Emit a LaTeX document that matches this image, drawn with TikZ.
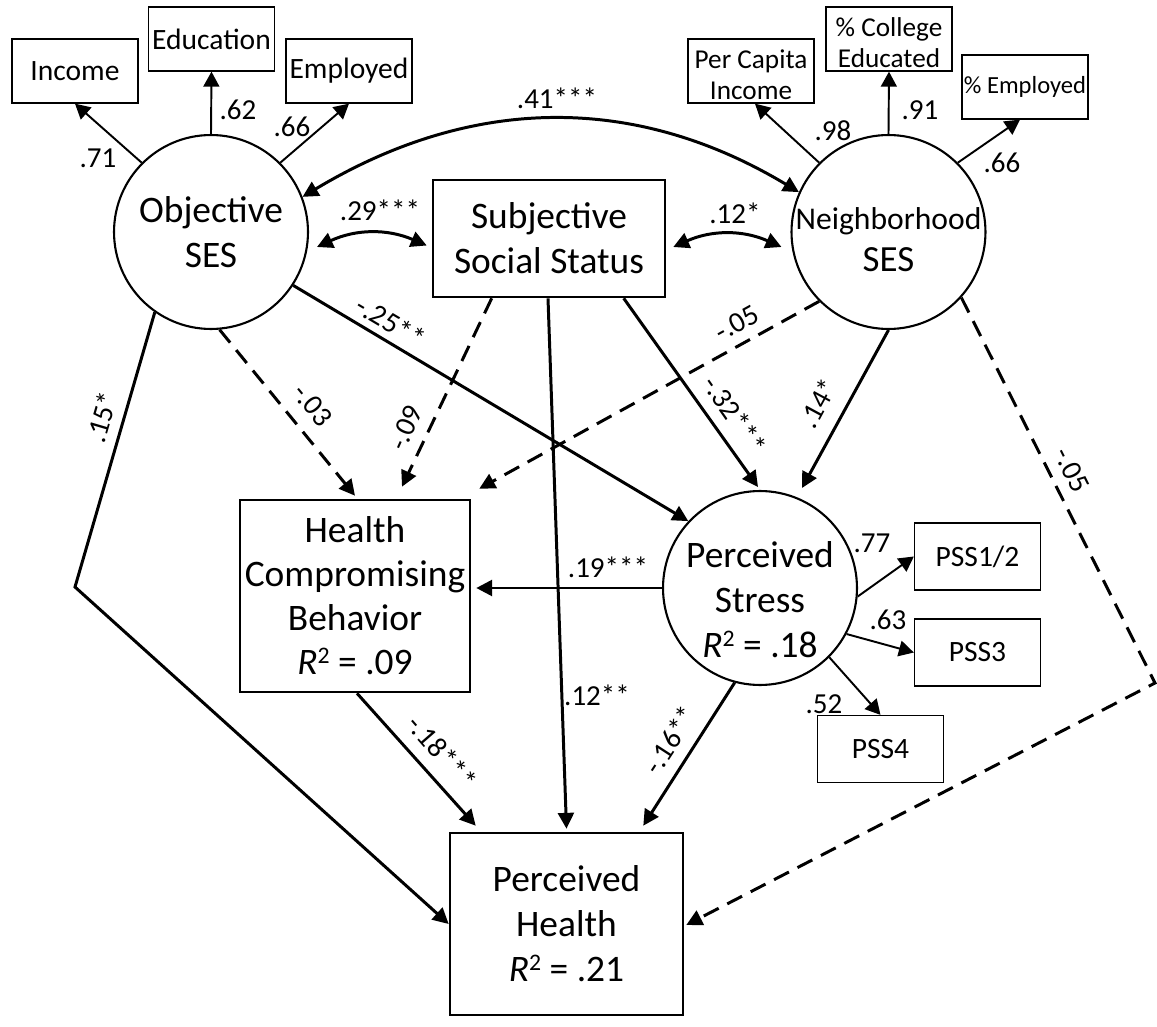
\documentclass[tikz,border=0pt]{standalone}
\usepackage{fontspec}
\setmainfont{Carlito}
\usetikzlibrary{arrows.meta,calc}
\newcommand{\Rsq}{\textit{R}\raisebox{6.2pt}{\fontsize{13.5}{13.5}\selectfont 2}}
\begin{document}
\begin{tikzpicture}[x=0.02cm,y=0.02cm,
  big/.style={font=\fontsize{21.3}{25.6}\selectfont, align=center},
  latent/.style={draw, circle, line width=1.2pt, minimum size=3.88cm, inner sep=0pt},
  obsbox/.style={draw, line width=1.5pt, inner sep=0pt, big},
  indbox/.style={draw, line width=0.75pt, minimum width=2.52cm, minimum height=1.28cm, inner sep=0pt, font=\fontsize{16.8}{19}\selectfont, align=center},
  txt/.style={inner sep=0pt, align=center},
  pathlbl/.style={font=\fontsize{16.5}{19}\selectfont, inner sep=0pt},
  tip/.tip={Triangle[length=9pt,width=9pt]},
  mainpath/.style={line width=1.7pt, -tip},
  dashpath/.style={mainpath, dash pattern=on 9.5pt off 5.5pt},
  loadpath/.style={line width=1.1pt, -{Triangle[length=8.5pt,width=9pt]}},
  covpath/.style={line width=1.7pt, tip-tip},
]
\useasboundingbox[fill=white] (0,0) rectangle (1157,-1027);

% indicator boxes
\node[indbox] (inc) at (75,-71) {Income};
\node[indbox] (edu) at (211.5,-39) {Education};
\node[indbox] (emp) at (349,-71) {Employed};
\node[indbox] (pci) at (751,-71) {};
\node[txt, font=\fontsize{15.5}{17.6}\selectfont] (pcitext) at (751,-74.7) {Per Capita\\Income};
\node[indbox] (col) at (889,-39) {};
\node[txt, font=\fontsize{15.5}{17.6}\selectfont] (coltext) at (889,-42.7) {\% College\\Educated};
\node[indbox, font=\fontsize{14}{17}\selectfont] (pemp) at (1025,-87) {\% Employed};
\node[indbox, minimum height=1.34cm] (pss12) at (977.5,-556.5) {PSS1/2};
\node[indbox, minimum height=1.34cm] (pss3) at (977.5,-652.5) {PSS3};
\node[indbox, minimum height=1.34cm] (pss4) at (880.5,-749) {PSS4};

% latent variables
\node[latent, big] (O) at (211,-232) {Objective\\SES};
\node[latent] (N) at (888.5,-232) {};
\node[txt, font=\fontsize{18}{24}\selectfont] (Ntext) at (888.5,-239.5) {Neighborhood\\{\fontsize{21}{24}\selectfont SES}};
\node[latent] (PS) at (760,-588) {};
\node[txt, font=\fontsize{21.3}{25.6}\selectfont] (PStext) at (760,-600) {Perceived\\Stress\\\Rsq{} = .18};

% observed variables
\node[obsbox, minimum width=4.64cm, minimum height=2.34cm] (SSS) at (549,-238.5) {Subjective\\Social Status};
\node[obsbox, minimum width=4.6cm, minimum height=3.84cm, font=\fontsize{21.3}{25}\selectfont] (HCB) at (355,-596) {Health\\Compromising\\Behavior\\\Rsq{} = .09};
\node[obsbox, minimum width=4.66cm, minimum height=3.64cm, font=\fontsize{21.3}{25.6}\selectfont] (PH) at (566.5,-924) {Perceived\\Health\\\Rsq{} = .21};

\coordinate (bendL) at (75,-587);
\coordinate (bendR) at (1155,-683);

% loadings
\draw[loadpath] (O.135) -- (inc.south);
\draw[loadpath] (O.north) -- (edu.south);
\draw[loadpath] (O.45) -- (emp.south);
\draw[loadpath] (N.135) -- ($(pci.south)+(4,0)$);
\draw[loadpath] (N.north) -- (col.south);
\draw[loadpath] (N.45) -- ($(pemp.south)+(-5,0)$);
\draw[loadpath] (PS.-5) -- (pss12.west);
\draw[loadpath] (PS.-28) -- (pss3.west);
\draw[loadpath] (PS.-45) -- (pss4.north);

% covariances
\draw[covpath] (O.21) to[out=31,in=149] (N.156);
\draw[covpath] ($(O.center)+(106,-15)$) to[bend left=24] ($(SSS.west)+(-5,-7)$);
\draw[covpath] ($(SSS.east)+(7,-8.5)$) to[bend left=24] ($(N.west)+(-9,-15)$);

% structural paths
\draw[dashpath] (O.-85) -- ($(HCB.north)+(0,3)$);
\draw[dashpath] ($(SSS.south west)+(60,0)$) -- ($(HCB.north)+(47,12)$);
\draw[dashpath] (N.225) -- ($(HCB.north east)+(8,10)$);
\draw[mainpath] (O.-33) -- (PS.137);
\draw[mainpath] ($(SSS.south west)+(192,0)$) -- ($(PS.north)+(-2,3)$);
\draw[mainpath] ($(SSS.south)+(-1,0)$) -- ($(PH.north)+(0,3)$);
\draw[mainpath] (N.south) -- ($(PS.center)+(42,100)$);
\draw[dashpath] (N.-42) -- (bendR) -- ($(PH.east)+(2,-1)$);
\draw[mainpath] (O.-125) -- (bendL) -- (PH.west);
\draw[mainpath] (PS.west) -- ($(PS.west -| HCB.east)+(5,0)$);
\draw[mainpath] ($(HCB.south)+(2,0)$) -- ($(PH.north west)+(27,6)$);
\draw[mainpath] (PS.-105) -- ($(PH.north east)+(-41,6)$);

% labels
\node[pathlbl] (l71) at (98,-158) {.71};
\node[pathlbl] (l62) at (238,-110) {.62};
\node[pathlbl] (l66a) at (292,-127) {.66};
\node[pathlbl] (l98) at (833,-131) {.98};
\node[pathlbl] (l91) at (920,-110) {.91};
\node[pathlbl] (l66b) at (1002,-163) {.66};
\node[pathlbl] (l41) at (557,-98) {.41***};
\node[pathlbl] (l29) at (380,-210) {.29***};
\node[pathlbl] (l12a) at (735,-213) {.12*};
\node[pathlbl, rotate=-30.8] (l25) at (391,-322) {-.25**};
\node[pathlbl, rotate=-50.5] (l03) at (313,-405) {-.03};
\node[pathlbl, rotate=66] (l09) at (406,-428) {-.09};
\node[pathlbl, rotate=29] (l05a) at (737,-323) {-.05};
\node[pathlbl, rotate=-55] (l32) at (735,-415) {-.32***};
\node[pathlbl, rotate=61.6] (l14) at (818,-403) {.14*};
\node[pathlbl, rotate=-63.4] (l05b) at (1072,-470) {-.05};
\node[pathlbl] (l19) at (608,-567) {.19***};
\node[pathlbl] (l12b) at (597,-695) {.12**};
\node[pathlbl, rotate=-49] (l18) at (442,-752) {-.18***};
\node[pathlbl, rotate=57] (l16) at (670,-740) {-.16**};
\node[pathlbl, rotate=73.6] (l15) at (102,-417) {.15*};
\node[pathlbl] (l77) at (872,-543) {.77};
\node[pathlbl] (l63) at (888,-620) {.63};
\node[pathlbl] (l52) at (824,-704) {.52};
\end{tikzpicture}
\end{document}
